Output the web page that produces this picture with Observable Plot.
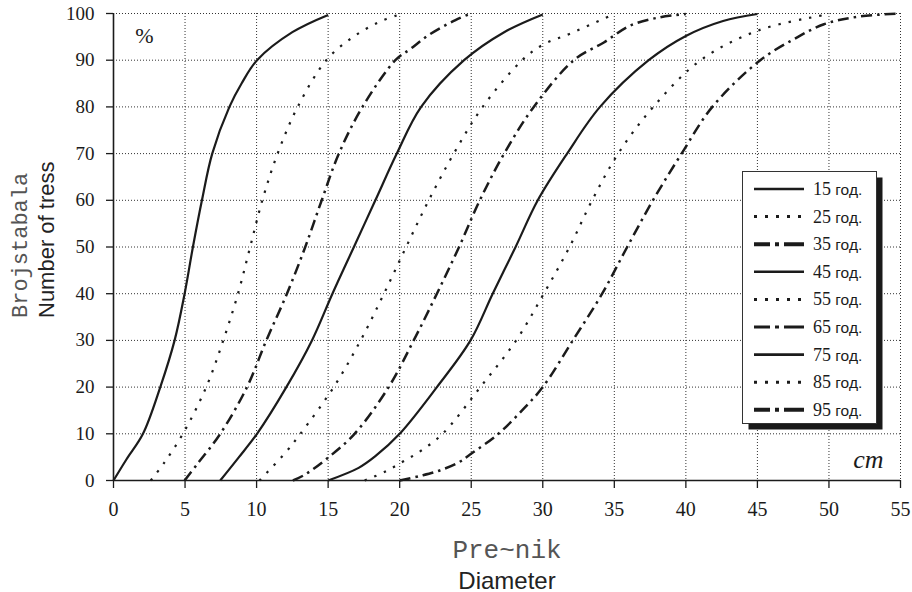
<!DOCTYPE html>
<html><head><meta charset="utf-8">
<script src="https://cdn.jsdelivr.net/npm/d3@7"></script>
<script src="https://cdn.jsdelivr.net/npm/@observablehq/plot@0.6"></script>
<style>body{margin:0;background:#fff} #chart svg{display:block}</style>
</head><body><div id="chart"></div>
<script>
// Stand ages (legend labels)
const ages = ["15", "25", "35", "45", "55", "65", "75", "85", "95"];
const ageSuffix = " год.";

// Cumulative share of trees (%) by diameter (cm), one array per age
const s15 = [[0,0],[0.9,4.5],[2.06,10],[3.27,20],[4.27,30],[4.97,40],[5.55,50],[6.18,60],[6.9,70],[8.1,80],[8.95,85],[10.03,90],[12.5,96],[15,99.7]];
const s25 = [[2.6,0],[3.5,3.6],[4.85,10],[6.48,20],[7.67,30],[8.7,40],[9.55,50],[10.4,60],[11.47,70],[12.87,80],[14.87,90],[16.67,94.8],[18.5,98.1],[20,99.8]];
const s35 = [[4.97,0],[5.85,3.5],[7.46,10],[9.33,20],[10.68,30],[12.12,40],[13.4,50],[14.55,60],[15.75,70],[17.4,80],[19.7,90],[20.75,92.4],[22.03,95.4],[23.9,98.6],[24.9,99.9]];
const s45 = [[7.46,0],[8.74,4.9],[10.03,10],[12.08,20],[13.87,30],[15.3,40],[16.8,50],[18.3,60],[19.8,70],[21.5,80],[24.5,90],[27.3,96],[30,99.8]];
const s55 = [[10.2,0],[12.08,6.2],[13.06,10],[15.39,20],[17.27,30],[18.9,40],[20.45,50],[22.03,60],[23.78,70],[25.8,80],[28.56,90],[30,93.3],[32,95.8],[34.7,99.5]];
const s65 = [[12.54,0],[13.4,1.3],[15,4.9],[16.85,10],[19.23,20],[20.98,30],[22.6,40],[24.15,50],[25.6,60],[27.3,70],[29.37,80],[32.17,90],[34.27,93.8],[36.1,97.4],[38.2,99.2],[40,99.9]];
const s75 = [[15,0],[17.13,2.7],[18.3,5.2],[20,10],[22.6,20],[24.95,30],[26.5,40],[28.1,50],[29.65,60],[31.7,70],[34,80],[37.4,90],[40,95.2],[42.6,98.4],[45,99.9]];
const s85 = [[17.55,0],[18.93,1.8],[20.2,4],[21.45,6.3],[23,10],[25.64,20],[28.14,30],[30.07,40],[31.87,50],[33.45,60],[35.27,70],[37.72,80],[41.03,90],[45,96.3],[49.2,99.4],[50,99.8]];
const s95 = [[20,0],[21.45,1],[22.85,2.2],[24.13,3.9],[24.94,5.6],[26.9,10],[28.67,15.4],[30,20],[32.1,30],[34.15,40],[35.9,50],[37.7,60],[39.7,70],[41.85,80],[45.2,90],[47.55,94.5],[49.65,97.7],[52,99.3],[55,100]];

const xTicks = [0, 5, 10, 15, 20, 25, 30, 35, 40, 45, 50, 55];
const yTicks = [0, 10, 20, 30, 40, 50, 60, 70, 80, 90, 100];

const series = [s15, s25, s35, s45, s55, s65, s75, s85, s95];

const ink = "#1b1b1b";
const SERIF = "Liberation Serif";
const SANS = "Liberation Sans";
const MONO = "Liberation Mono";
const chartDash = k => k === 0 ? null : k === 1 ? "2.4,8" : "11,5,2.5,5";

const lineMarks = series.map((s, i) => Plot.line(s, {
  x: d => d[0], y: d => d[1], curve: "catmull-rom",
  stroke: ink, strokeWidth: (i % 3 === 2) ? 2.5 : 2.2, strokeDasharray: chartDash(i % 3), strokeLinecap: "butt"
}));

const gridStyle = {stroke: "#333", strokeOpacity: 1, strokeWidth: 1, strokeDasharray: "1,2"};

const chart = Plot.plot({
  width: 912, height: 592,
  marginLeft: 113, marginRight: 12, marginTop: 13, marginBottom: 112,
  x: {domain: [0, 55]},
  y: {domain: [0, 100]},
  style: {background: "#fff", color: ink},
  marks: [
    Plot.gridX(xTicks, gridStyle),
    Plot.gridY(yTicks, gridStyle),
    Plot.axisX(xTicks, {tickSize: 8, tickPadding: 13, fontSize: 20, label: null, strokeWidth: 1.3}),
    Plot.axisY(yTicks, {tickSize: 7, tickPadding: 12, fontSize: 19, label: null, strokeWidth: 1.3}),
    Plot.ruleX([0], {stroke: ink, strokeWidth: 1.6}),
    Plot.ruleY([0], {stroke: ink, strokeWidth: 1.6}),
    ...lineMarks,
    Plot.text(["%"], {text: d => d, frameAnchor: "top-left", dx: 31, dy: 22, fontSize: 22, textAnchor: "middle", lineAnchor: "middle", fill: ink}),
    Plot.text(["cm"], {text: d => d, frameAnchor: "bottom-right", dx: -17, dy: -13, fontSize: 26, fontStyle: "italic", textAnchor: "end", lineAnchor: "bottom", fill: ink}),
    Plot.text(["Brojstabala"], {text: d => d, frameAnchor: "left", rotate: -90, textAnchor: "start", lineAnchor: "bottom", dx: -87, dy: 71, fontSize: 22, fill: "#555"}),
    Plot.text(["Number of tress"], {text: d => d, frameAnchor: "left", rotate: -90, textAnchor: "start", lineAnchor: "bottom", dx: -60, dy: 71, fontSize: 22, fill: "#222"}),
    Plot.text(["Pre~nik"], {text: d => d, frameAnchor: "bottom", textAnchor: "middle", lineAnchor: "bottom", dy: 77, fontSize: 26, fill: "#555"}),
    Plot.text(["Diameter"], {text: d => d, frameAnchor: "bottom", textAnchor: "middle", lineAnchor: "bottom", dy: 108, fontSize: 24, fill: "#222"})
  ]
});

document.getElementById("chart").appendChild(chart);

// Font faces: serif for numbers and small annotations, mono / sans for the axis titles
const svg = d3.select(chart);
const faceOf = s => (s === "Brojstabala" || s === "Pre~nik") ? MONO
  : (s === "Number of tress" || s === "Diameter") ? SANS : SERIF;
svg.attr("font-family", SERIF).style("font-family", SERIF, "important");
svg.selectAll("g").attr("font-family", null);
svg.selectAll("text").each(function () {
  const t = d3.select(this);
  t.attr("font-family", faceOf(t.text())).style("font-family", faceOf(t.text()), "important");
});

// Legend (drawn inside the plot area, top-right with drop shadow)
const lg = svg.append("g").attr("class", "legend");
const bx = 742.5, by = 171.5, bw = 134, bh = 252, sh = 6;
lg.append("rect").attr("x", bx + sh).attr("y", by + sh).attr("width", bw).attr("height", bh).attr("fill", "#1a1a1a");
lg.append("rect").attr("x", bx).attr("y", by).attr("width", bw).attr("height", bh).attr("fill", "#fff").attr("stroke", "#333").attr("stroke-width", 1);
const legDash = k => k === 0 ? null : k === 1 ? "3,8" : "16,5,4,5,20";
const legWidth = i => (i % 3 === 0) ? 2.6 : (i % 3 === 1) ? 3 : (i === 5 ? 3 : 4);
ages.forEach((a, i) => {
  const cy = 189 + i * 27.6;
  lg.append("line").attr("x1", 754).attr("x2", 804).attr("y1", cy).attr("y2", cy)
    .attr("stroke", ink).attr("stroke-width", legWidth(i))
    .attr("stroke-dasharray", legDash(i % 3));
  const t = lg.append("text").attr("x", 813).attr("y", cy + 6).attr("fill", ink)
    .style("text-anchor", "start");
  t.append("tspan").attr("font-family", SERIF).style("font-family", SERIF, "important").style("font-size", "18px").text(a);
  t.append("tspan").attr("font-family", SANS).style("font-family", SANS, "important").style("font-size", "15.5px").text(ageSuffix);
});
</script>
</body></html>
